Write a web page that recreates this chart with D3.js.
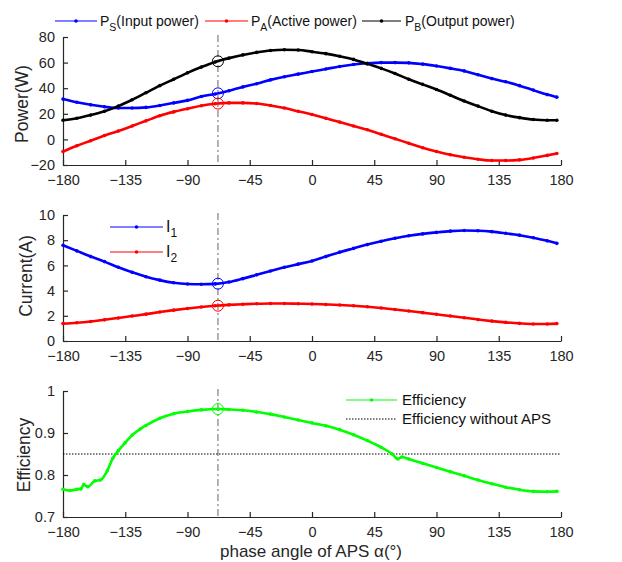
<!DOCTYPE html>
<html>
<head>
<meta charset="utf-8">
<script src="https://cdn.jsdelivr.net/npm/d3@7"></script>
<style>
  body { margin: 0; background: #fff; }
  svg { font-family: "Liberation Sans", Arial, sans-serif; }
  .axis path, .axis line { stroke: #262626; stroke-width: 1.2; }
  .axis text { fill: #262626; font-size: 14.5px; }
</style>
</head>
<body>
<div id="canvas"></div>
<script>
// angles (deg) for power / current curves
const angles = [-180,-170,-160,-150,-140,-130,-120,-110,-100,-90,-80,-70,-60,-50,-40,-30,-20,-10,
  0,10,20,30,40,50,60,70,80,90,100,110,120,130,140,150,160,170,177];

const pS = [31.5,29,27,25.5,24.5,24.5,25,26.5,28.5,30.5,33.5,35.5,38,41,43.5,46.5,49,51,
  53,55,57,58.5,59.5,60,60,59.8,58.8,57.3,55.5,53.5,50.5,47.5,45,42,38.5,35,33];
const pA = [-9.5,-5,-1,3,6.5,10.5,14.5,18.5,21.5,24,26.3,27.8,28.5,28.5,28,26.5,24.5,22,
  19.5,16.5,13.5,10.5,7.5,4,0.5,-3,-6.5,-9.5,-12,-14,-15.5,-16.5,-16.5,-16,-14.5,-12.5,-11];
const pB = [15,16.5,19,22,26,31,36.5,42,47,52,56.5,60.5,63.5,66,68,69.5,70,69.8,
  68.5,67,65,62.5,59,55.5,51.5,47,43,39,34.5,30,26,22,19,17,15.5,15,15];

const i1 = [7.6,7.15,6.7,6.3,5.85,5.45,5.1,4.83,4.62,4.52,4.5,4.53,4.68,4.95,5.25,5.55,5.85,6.1,
  6.35,6.7,7.05,7.35,7.65,7.92,8.15,8.35,8.5,8.62,8.72,8.77,8.75,8.68,8.55,8.4,8.2,7.95,7.75];
const i2 = [1.38,1.45,1.55,1.68,1.83,1.98,2.13,2.3,2.45,2.58,2.7,2.8,2.87,2.92,2.96,2.98,2.98,2.96,
  2.94,2.9,2.86,2.8,2.72,2.62,2.5,2.38,2.25,2.12,1.98,1.85,1.7,1.58,1.48,1.4,1.35,1.35,1.38];

const effAngles = [-180,-175,-170,-167,-165,-162,-157,-153,-148,-144,-140,-135,-130,-124,-120,-110,-100,-90,-80,
  -68,-60,-50,-40,-30,-20,-10,0,10,20,30,40,50,58,62,65,70,80,90,100,110,120,130,140,150,160,170,177];
const eff = [0.766,0.763,0.766,0.767,0.777,0.772,0.786,0.788,0.81,0.84,0.858,0.877,0.895,0.91,0.918,0.935,0.946,0.951,0.955,
  0.957,0.956,0.954,0.95,0.945,0.938,0.931,0.924,0.917,0.908,0.896,0.882,0.866,0.85,0.838,0.843,0.838,0.828,0.818,0.808,0.798,0.788,0.779,0.771,0.765,0.761,0.76,0.761];
const effNoAPS = 0.85;

const optAngle = -68;
const optPower = [61, 36, 28];   // PB, PS, PA at optimum
const optCurrent = [4.55, 2.8];
const optEff = 0.957;

const xTicks = [-180,-135,-90,-45,0,45,90,135,180];

const width = 622, height = 562;
const svg = d3.select("#canvas").append("svg").attr("width", width).attr("height", height);

const x = d3.scaleLinear().domain([-180, 180]).range([63, 561]);

function panel(top, bottom, domain, ticks, fmt) {
  const y = d3.scaleLinear().domain(domain).range([bottom, top]);
  svg.append("g").attr("class", "axis")
    .attr("transform", `translate(0,${bottom})`)
    .call(d3.axisBottom(x).tickValues(xTicks).tickSizeInner(-5).tickSizeOuter(0).tickPadding(9.5));
  svg.append("g").attr("class", "axis")
    .attr("transform", `translate(63,0)`)
    .call(d3.axisLeft(y).tickValues(ticks).tickSizeInner(-5).tickSizeOuter(0).tickPadding(8).tickFormat(fmt || d3.format("d")));
  // optimum marker line
  svg.append("line")
    .attr("x1", x(optAngle)).attr("x2", x(optAngle))
    .attr("y1", top - 2).attr("y2", bottom)
    .attr("stroke", "#999").attr("stroke-width", 1.5)
    .attr("stroke-dasharray", "7,3,2,3");
  return y;
}

function series(y, xs, ys, color) {
  const line = d3.line().x((d, i) => x(xs[i])).y(d => y(d)).curve(d3.curveMonotoneX);
  svg.append("path").datum(ys)
    .attr("fill", "none").attr("stroke", color).attr("stroke-width", 2.6)
    .attr("d", line);
  svg.append("g").selectAll("circle").data(ys).join("circle")
    .attr("cx", (d, i) => x(xs[i])).attr("cy", d => y(d)).attr("r", 1.8)
    .attr("fill", color);
}

function ring(y, v, color) {
  svg.append("circle").attr("cx", x(optAngle)).attr("cy", y(v)).attr("r", 5.5)
    .attr("fill", "none").attr("stroke", color).attr("stroke-width", 1);
}

function ylabel(text, cx, cy) {
  svg.append("text").attr("transform", `translate(${cx},${cy}) rotate(-90)`)
    .attr("text-anchor", "middle").attr("dominant-baseline", "central")
    .attr("font-size", 17.5).attr("fill", "#262626").text(text);
}

function legendItem(x1, x2, yy, color, dash) {
  svg.append("line").attr("x1", x1).attr("x2", x2).attr("y1", yy).attr("y2", yy)
    .attr("stroke", color).attr("stroke-width", 1.2)
    .attr("stroke-dasharray", dash || null);
  if (!dash) svg.append("circle").attr("cx", (x1 + x2) / 2).attr("cy", yy).attr("r", 1.8).attr("fill", color);
}

function subLabel(tx, yy, main, sub, rest, fs) {
  fs = fs || 14;
  const t = svg.append("text").attr("x", tx).attr("y", yy + 5).attr("font-size", fs).attr("fill", "#111");
  t.append("tspan").text(main);
  t.append("tspan").attr("font-size", fs * 0.75).attr("dy", 5).text(sub);
  if (rest) t.append("tspan").attr("dy", -5).text(rest);
}

// --- top panel: power
const yP = panel(37, 165, [-20, 80], [-20, 0, 20, 40, 60, 80]);
series(yP, angles, pS, "#0000ff");
series(yP, angles, pA, "#ff0000");
series(yP, angles, pB, "#000000");
ring(yP, optPower[0], "#000");
ring(yP, optPower[1], "#0000ff");
ring(yP, optPower[2], "#ff0000");
ylabel("Power(W)", 22, 104);

legendItem(55, 97, 21, "#0000ff");
subLabel(100, 21, "P", "S", "(Input power)");
legendItem(205, 248, 21, "#ff0000");
subLabel(251, 21, "P", "A", "(Active power)");
legendItem(362, 401, 21, "#000000");
subLabel(405, 21, "P", "B", "(Output power)");

// --- middle panel: current
const yI = panel(215, 341, [0, 10], [0, 2, 4, 6, 8, 10]);
series(yI, angles, i1, "#0000ff");
series(yI, angles, i2, "#ff0000");
ring(yI, optCurrent[0], "#0000ff");
ring(yI, optCurrent[1], "#ff0000");
ylabel("Current(A)", 26, 276);

legendItem(110, 163, 227, "#0000ff");
subLabel(166, 227, "I", "1", null, 16);
legendItem(110, 163, 252, "#ff0000");
subLabel(166, 252, "I", "2", null, 16);

// --- bottom panel: efficiency
const yE = panel(391, 517, [0.7, 1], [0.7, 0.8, 0.9, 1], d => d === 1 ? "1" : d3.format(".1f")(d));
svg.append("line").attr("x1", x(-180)).attr("x2", x(180))
  .attr("y1", yE(effNoAPS)).attr("y2", yE(effNoAPS))
  .attr("stroke", "#000").attr("stroke-width", 1.2).attr("stroke-dasharray", "1.5,1.5");
series(yE, effAngles, eff, "#00ff00");
ring(yE, optEff, "#00ff00");
ylabel("Efficiency", 24, 455);

legendItem(346, 397, 400, "#00ff00");
svg.append("text").attr("x", 402).attr("y", 405).attr("font-size", 15).attr("fill", "#111").text("Efficiency");
legendItem(346, 397, 419, "#000", "1.5,1.5");
svg.append("text").attr("x", 402).attr("y", 424).attr("font-size", 15).attr("fill", "#111").text("Efficiency without APS");

svg.append("text").attr("x", 311).attr("y", 557).attr("text-anchor", "middle")
  .attr("font-size", 17).attr("fill", "#262626").text("phase angle of APS α(°)");
</script>
</body>
</html>
